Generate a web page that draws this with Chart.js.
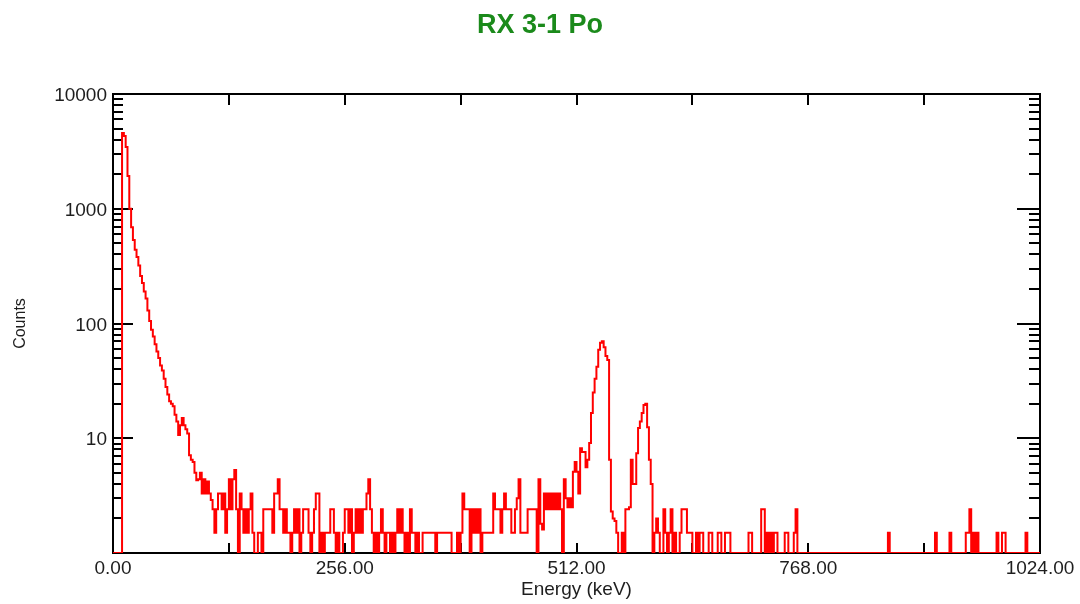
<!DOCTYPE html>
<html>
<head>
<meta charset="utf-8">
<title>RX 3-1 Po</title>
<script src="https://cdn.jsdelivr.net/npm/chart.js@4.4.1/dist/chart.umd.min.js"></script>
<style>
  html, body { margin: 0; padding: 0; background: #fff; }
  #wrap { width: 1080px; height: 604px; }
</style>
</head>
<body>
<div id="wrap"><canvas id="spectrum" width="1080" height="604"></canvas></div>
<script>
// MCA spectrum, 2 keV per bin, 512 bins over 0-1024 keV
const binWidth = 2;

const countsLow = [ // 0-256 keV
  0, 0, 0, 0, 0, 4570, 4300, 3450, 1930, 1000, 690, 535, 440, 380, 320, 260,
  225, 190, 165, 130, 105, 88, 77, 66, 57, 50, 43, 39, 33, 28, 24, 21,
  20, 19, 16, 14, 10.7, 13, 15, 13, 12, 11, 7.1, 6.5, 6.2, 5, 4.3, 4.4,
  5, 3.3, 4.4, 3.3, 4.2, 3.3, 2.9, 2.4, 1.5, 2.4, 3.3, 3.3, 2.4, 3.3, 1.5, 2.4,
  4.4, 2.4, 4.4, 5.3, 2.4, 0, 3.3, 2.4, 1.5, 2.4, 1.5, 2.4, 3.3, 1.5, 0, 0,
  1.5, 1.5, 0, 2.4, 2.4, 2.4, 2.4, 2.4, 1.5, 3.3, 3.3, 4.4, 2.4, 2.4, 1.5, 2.4,
  1.5, 1.5, 0, 1.5, 2.4, 1.5, 2.4, 0, 1.5, 2.4, 2.4, 2.4, 1.5, 0, 1.5, 2.4,
  3.3, 3.3, 0, 1.5, 0, 1.5, 1.5, 1.5, 2.4, 2.4, 1.5, 0, 1.5, 0, 0, 1.5
];
const countsMid = [ // 256-512 keV
  2.4, 2.4, 1.5, 2.4, 0, 1.5, 2.4, 1.5, 2.4, 1.5, 2.4, 2.4, 3.3, 4.4, 2.4, 1.5,
  0, 1.5, 0, 1.5, 2.4, 1.5, 0, 1.5, 1.5, 0, 1.5, 0, 1.5, 2.4, 1.5, 2.4,
  1.5, 0, 1.5, 0, 2.4, 1.5, 1.5, 0, 1.5, 0, 0, 1.5, 1.5, 1.5, 1.5, 1.5,
  1.5, 1.5, 0, 1.5, 1.5, 1.5, 1.5, 1.5, 1.5, 1.5, 1.5, 0, 0, 0, 1.5, 0,
  1.5, 3.3, 2.4, 2.4, 2.4, 0, 2.4, 1.5, 2.4, 1.5, 2.4, 0, 1.5, 1.5, 1.5, 1.5,
  1.5, 1.5, 3.3, 2.4, 2.4, 2.4, 1.5, 2.4, 3.3, 2.4, 2.4, 2.4, 1.5, 1.5, 2.4, 3,
  4.4, 1.5, 1.5, 1.5, 1.5, 2.4, 2.4, 2.4, 2.4, 2.4, 0, 4.4, 1.8, 1.6, 3.3, 2.4,
  3.3, 2.4, 3.3, 2.4, 3.3, 2.4, 3.3, 2.4, 0, 4.4, 3, 2.5, 3, 2.5, 5.1, 6.2
];
const countsPeak = [ // 512-768 keV
  5.1, 3.3, 8.2, 7.6, 7.6, 5.6, 6.5, 9.1, 16.6, 25, 33, 42, 59, 68, 70, 62,
  52, 48, 6.5, 2.3, 2, 1.9, 1.5, 0, 0, 1.5, 0, 2.4, 2.4, 2.5, 6.5, 4,
  4, 7.4, 12.3, 14, 16.6, 19.5, 20, 12.5, 6.5, 4, 0, 1.5, 2, 1.5, 0, 0,
  2.4, 1.5, 0, 1.5, 2.4, 0, 1.5, 0, 0, 1.5, 2.4, 2.4, 2.4, 1.5, 1.5, 1.5,
  0, 0, 1.5, 0, 1.5, 1.5, 0, 0, 0, 1.5, 1.5, 0, 0, 0, 1.5, 1.5,
  0, 0, 1.5, 1.5, 1.5, 0, 0, 0, 0, 0, 0, 0, 0, 0, 0, 1.5,
  1.5, 0, 0, 0, 0, 0, 2.4, 2.4, 0, 1.5, 0, 1.5, 0, 1.5, 1.5, 0,
  0, 0, 0, 1.5, 1.5, 0, 0, 0, 1.5, 2.4, 0, 0, 0, 0, 0, 0
];
const countsHigh = [ // 768-1024 keV
  0, 0, 0, 0, 0, 0, 0, 0, 0, 0, 0, 0, 0, 0, 0, 0,
  0, 0, 0, 0, 0, 0, 0, 0, 0, 0, 0, 0, 0, 0, 0, 0,
  0, 0, 0, 0, 0, 0, 0, 0, 0, 0, 0, 0, 1.5, 0, 0, 0,
  0, 0, 0, 0, 0, 0, 0, 0, 0, 0, 0, 0, 0, 0, 0, 0,
  0, 0, 0, 0, 0, 0, 1.5, 0, 0, 0, 0, 0, 0, 0, 1.5, 0,
  0, 0, 0, 0, 0, 0, 0, 1.5, 1.5, 2.4, 0, 1.5, 0, 1.5, 0, 0,
  0, 0, 0, 0, 0, 0, 0, 0, 1.5, 0, 0, 1.5, 1.5, 0, 0, 0,
  0, 0, 0, 0, 0, 0, 0, 0, 1.5, 0, 0, 0, 0, 0, 0, 0
];

const energyLabels = [0, 256, 512, 768, 1024];
const energyTickStep = 128;
const countDecades = [10, 100, 1000, 10000];
const countFloor = 1; // empty bins sit on the bottom of the log axis

const counts = countsLow.concat(countsMid, countsPeak, countsHigh);
const points = counts.map((c, i) => ({ x: i * binWidth, y: Math.max(c, countFloor) }));
points.push({ x: counts.length * binWidth, y: Math.max(counts[counts.length - 1], countFloor) });

const sans = "'Liberation Sans', Arial, sans-serif";
const textColor = '#1e1e1e';

// frame and tick marks on all four sides, drawn under the trace
const frame = {
  id: 'frame',
  beforeDatasetsDraw(chart) {
    const { ctx, chartArea: a, scales: { x, y } } = chart;
    ctx.save();
    ctx.strokeStyle = '#000';
    ctx.lineWidth = 2;
    ctx.strokeRect(a.left, a.top, a.right - a.left, a.bottom - a.top);
    ctx.beginPath();
    for (let v = 0; v <= 1024; v += energyTickStep) {
      const px = Math.round(x.getPixelForValue(v));
      ctx.moveTo(px, a.bottom); ctx.lineTo(px, a.bottom - 10);
      ctx.moveTo(px, a.top); ctx.lineTo(px, a.top + 11);
    }
    for (let d = 1; d < 10000; d *= 10) {
      for (let m = 2; m <= 10; m++) {
        const py = Math.round(y.getPixelForValue(d * m));
        const major = m === 10;
        ctx.moveTo(a.left, py); ctx.lineTo(a.left + (major ? 20 : 10), py);
        ctx.moveTo(a.right, py); ctx.lineTo(a.right - (major ? 23 : 11), py);
      }
    }
    ctx.stroke();
    ctx.restore();
  }
};

// heading centred over the whole window
const heading = {
  id: 'heading',
  afterDraw(chart) {
    const { ctx } = chart;
    ctx.save();
    ctx.fillStyle = '#1b8a1b';
    ctx.font = "bold 27px " + sans;
    ctx.textAlign = 'center';
    ctx.textBaseline = 'middle';
    ctx.fillText('RX 3-1 Po', 540, 26);
    ctx.restore();
  }
};

new Chart(document.getElementById('spectrum'), {
  type: 'line',
  data: {
    datasets: [{
      data: points,
      borderColor: '#ff0000',
      borderWidth: 2,
      pointRadius: 0,
      stepped: 'before',
      fill: false
    }]
  },
  options: {
    responsive: false,
    animation: false,
    layout: { padding: { top: 94, right: 40, bottom: 0, left: 0 } },
    plugins: {
      legend: { display: false },
      tooltip: { enabled: false },
      title: { display: false }
    },
    scales: {
      x: {
        type: 'linear',
        min: 0,
        max: 1024,
        afterBuildTicks: s => { s.ticks = energyLabels.map(v => ({ value: v })); },
        afterFit: s => { s.height = 51; },
        grid: { display: false, drawTicks: false },
        border: { display: false },
        ticks: { callback: v => v.toFixed(2), font: { family: sans, size: 19 }, color: textColor, padding: 4, maxRotation: 0, autoSkip: false },
        title: { display: true, text: 'Energy (keV)', font: { family: sans, size: 19 }, color: textColor, padding: { top: 0, bottom: 3 } }
      },
      y: {
        type: 'logarithmic',
        min: 1,
        max: 10000,
        afterBuildTicks: s => { s.ticks = countDecades.map(v => ({ value: v })); },
        afterFit: s => { s.width = 113; },
        grid: { display: false, drawTicks: false },
        border: { display: false },
        ticks: { callback: v => String(v), font: { family: sans, size: 19 }, color: textColor, padding: 6, labelOffset: 2, autoSkip: false },
        title: { display: true, text: 'Counts', font: { family: sans, size: 16 }, color: textColor, padding: { top: 11, bottom: 0 } }
      }
    }
  },
  plugins: [frame, heading]
});
</script>
</body>
</html>
